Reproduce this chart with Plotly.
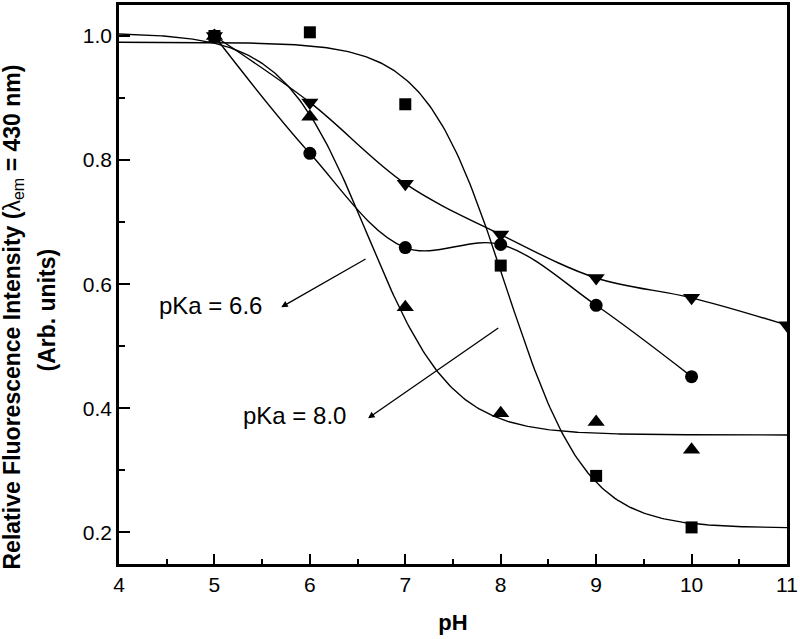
import numpy as np
import plotly.graph_objects as go

# ---- data ----
ph = [5, 6, 7, 8, 9, 10]
ph_tri_down = [5, 6, 7, 8, 9, 10, 11]
squares = [1.0, 1.006, 0.89, 0.63, 0.291, 0.208]
circles = [1.0, 0.811, 0.659, 0.664, 0.566, 0.451]
tri_up = [1.0, 0.870, 0.563, 0.392, 0.378, 0.333]
tri_down = [1.0, 0.893, 0.762, 0.680, 0.610, 0.578, 0.534]

# Boltzmann sigmoid fit parameters (A1, A2, x0, dx)
fit_squares = (0.990, 0.207, 8.05, 0.42)
fit_tri_up = (1.005, 0.357, 6.6, 0.44)

x_ticks = [4, 5, 6, 7, 8, 9, 10, 11]
y_ticks = [0.2, 0.4, 0.6, 0.8, 1.0]
y_tick_text = ["0.2", "0.4", "0.6", "0.8", "1.0"]


def boltzmann(x, p):
    a1, a2, x0, dx = p
    return a2 + (a1 - a2) / (1 + np.exp((x - x0) / dx))


xfit = np.linspace(4, 11, 300)

FONT = "Arial, Liberation Sans, Helvetica, sans-serif"
fig = go.Figure()

line_kw = dict(color="black", width=1.4)

fig.add_trace(go.Scatter(x=ph, y=circles, mode="lines+markers",
                         line=dict(color="black", width=1.4, shape="spline"),
                         marker=dict(symbol="circle", size=13, color="black"),
                         showlegend=False))
fig.add_trace(go.Scatter(x=ph_tri_down, y=tri_down, mode="lines+markers",
                         line=dict(color="black", width=1.4, shape="spline"),
                         marker=dict(symbol="triangle-down", size=15, color="black"),
                         showlegend=False))
fig.add_trace(go.Scatter(x=xfit, y=boltzmann(xfit, fit_squares), mode="lines",
                         line=line_kw, showlegend=False, hoverinfo="skip"))
fig.add_trace(go.Scatter(x=xfit, y=boltzmann(xfit, fit_tri_up), mode="lines",
                         line=line_kw, showlegend=False, hoverinfo="skip"))
fig.add_trace(go.Scatter(x=ph, y=squares, mode="markers",
                         marker=dict(symbol="square", size=12, color="black"),
                         showlegend=False))
fig.add_trace(go.Scatter(x=ph, y=tri_up, mode="markers",
                         marker=dict(symbol="triangle-up", size=15, color="black"),
                         showlegend=False))

# arrows (head at the label side, as in the original)
fig.add_annotation(x=5.70, y=0.563, ax=6.60, ay=0.642, xref="x", yref="y",
                   axref="x", ayref="y", text="", showarrow=True,
                   arrowhead=2, arrowsize=1, arrowwidth=1.3, arrowcolor="black")
fig.add_annotation(x=6.61, y=0.384, ax=7.99, ay=0.531, xref="x", yref="y",
                   axref="x", ayref="y", text="", showarrow=True,
                   arrowhead=2, arrowsize=1, arrowwidth=1.3, arrowcolor="black")
fig.add_annotation(x=4.96, y=0.566, xref="x", yref="y", text="pKa = 6.6",
                   showarrow=False, font=dict(family=FONT, size=24, color="black"))
fig.add_annotation(x=5.84, y=0.388, xref="x", yref="y", text="pKa = 8.0",
                   showarrow=False, font=dict(family=FONT, size=24, color="black"))

# y-axis title, two lines
fig.add_annotation(x=0, y=0.5, xref="paper", yref="paper", xanchor="center", yanchor="middle",
                   xshift=-106, yshift=-33, textangle=-90, showarrow=False,
                   text="<b>Relative Fluorescence Intensity (</b>λ<sub>em</sub><b> = 430 nm)</b>",
                   font=dict(family=FONT, size=23, color="black"))
fig.add_annotation(x=0, y=0.5, xref="paper", yref="paper", xanchor="center", yanchor="middle",
                   xshift=-73, yshift=-26, textangle=-90, showarrow=False,
                   text="<b>(Arb. units)</b>",
                   font=dict(family=FONT, size=23, color="black"))

fig.update_xaxes(range=[4, 11], tickvals=x_ticks, ticks="inside", ticklen=10, tickwidth=2,
                 tickcolor="black", showline=True, linecolor="black", linewidth=2.5,
                 mirror=True, showgrid=False, zeroline=False, ticklabeloverflow="allow",
                 tickfont=dict(family=FONT, size=21, color="black"),
                 minor=dict(dtick=0.5, ticks="inside", ticklen=5, tickwidth=1.5, tickcolor="black"),
                 title=dict(text="<b>pH</b>", font=dict(family=FONT, size=22, color="black"),
                            standoff=20))
fig.update_yaxes(range=[0.149, 1.05], tickvals=y_ticks, ticktext=y_tick_text, ticks="inside",
                 ticklen=11, tickwidth=2, tickcolor="black", showline=True, linecolor="black",
                 linewidth=2.5, mirror=True, showgrid=False, zeroline=False,
                 tickfont=dict(family=FONT, size=21, color="black"),
                 minor=dict(tickvals=[0.3, 0.5, 0.7, 0.9], ticks="inside", ticklen=6,
                            tickwidth=1.5, tickcolor="black"))

fig.update_layout(width=800, height=639, margin=dict(l=119, r=9, t=2, b=75),
                  plot_bgcolor="white", paper_bgcolor="white", showlegend=False)

fig.write_html("out.html", config={"displayModeBar": False},
               post_script="document.body.style.margin='0px';")
